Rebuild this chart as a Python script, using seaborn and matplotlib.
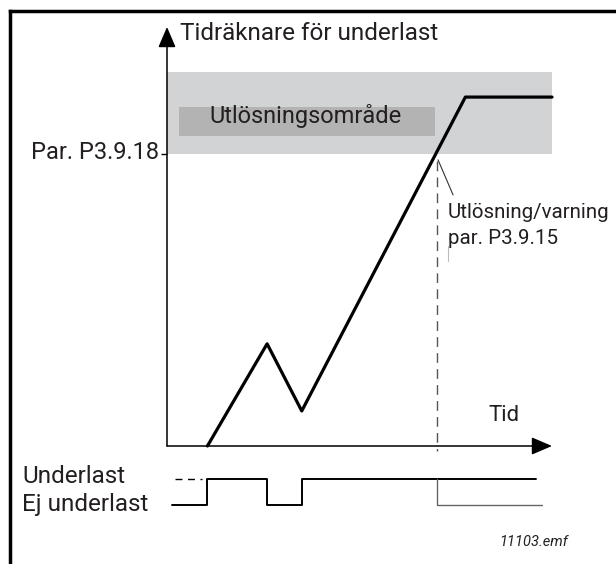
import matplotlib
matplotlib.use("Agg")
import matplotlib.pyplot as plt
import matplotlib.transforms as mtransforms
from matplotlib.lines import Line2D
from matplotlib.patches import Rectangle
import seaborn as sns
import pandas as pd

# ---------------- data ----------------
counter_time = [1.05, 2.6, 3.5, 7.75, 10.0]
counter_value = [0.0, 35.0, 12.0, 119.5, 119.5]
threshold = 100.0            # Par. P3.9.18
zone_top = 128.0
trip_time = 7.0
zone_box_time = [0.31, 6.96]
zone_box_value = [106.2, 116.1]

signal_time = [0.13, 1.05, 2.6, 3.5, 9.58]
signal_state = [0, 1, 0, 1, 1]
pre_dash_time = [0.21, 0.91]
pre_dash_state = [1, 1]
after_trip_time = [7.0, 7.0, 9.74]
after_trip_state = [1, 0, 0]

ytick_values = [threshold]
ytick_labels = ["Par. P3.9.18"]
signal_labels = ["Underlast", "Ej underlast"]
signal_label_states = [1, 0]

title_text = "Tidräknare för underlast"
zone_text = "Utlösningsområde"
trip_text = ["Utlösning/varning", "par. P3.9.15"]
x_text = "Tid"
file_text = "11103.emf"

counter_df = pd.DataFrame({"t": counter_time, "v": counter_value})
signal_df = pd.DataFrame({"t": signal_time, "s": signal_state})
after_df = pd.DataFrame({"t": after_trip_time, "s": after_trip_state})
dash_df = pd.DataFrame({"t": pre_dash_time, "s": pre_dash_state})

# ---------------- style ----------------
sns.set_theme(style="white")
plt.rcParams["font.family"] = ["Roboto", "DejaVu Sans"]
TXT = "#231f20"

W, H = 616, 564
fig = plt.figure(figsize=(W / 100, H / 100), dpi=100)
fig.patch.set_facecolor("white")

# main axes: x 0..10 -> px 167..552, y 0..143.5 -> px 446..27
ax = fig.add_axes([167 / W, (H - 446) / H, 385 / W, (446 - 27) / H])
ax.set_xlim(0, 10)
ax.set_ylim(0, 143.5)
ax.set_facecolor("none")
for s in ax.spines.values():
    s.set_visible(False)
ax.set_xticks([])
ax.set_yticks(ytick_values, ytick_labels)
ax.tick_params(axis="y", left=True, length=4.5, width=1.0, color="black",
               pad=1.5, labelsize=17, labelcolor=TXT)
for lab in ax.get_yticklabels():
    lab.set_transform(lab.get_transform() +
                      mtransforms.ScaledTranslation(0, 4 / 100, fig.dpi_scale_trans))

# trip zone
ax.axhspan(threshold, zone_top, color="#d2d3d5", lw=0, zorder=0)
ax.add_patch(Rectangle((zone_box_time[0], zone_box_value[0]),
                       zone_box_time[1] - zone_box_time[0],
                       zone_box_value[1] - zone_box_value[0],
                       facecolor="#b3b3b3", edgecolor="none", zorder=1))
ax.text(1.1, 110.6, zone_text, fontsize=17, color=TXT, va="baseline", ha="left", zorder=3)

# axes arrows
arrow_kw = dict(arrowstyle="-|>,head_length=1.05,head_width=0.45", lw=1.1,
                color="black", shrinkA=0, shrinkB=0, mutation_scale=12)
ax.annotate("", xy=(10, 0), xytext=(0, 0), arrowprops=arrow_kw, annotation_clip=False)
ax.annotate("", xy=(0, 143.5), xytext=(0, 0), arrowprops=arrow_kw, annotation_clip=False)

# counter line
sns.lineplot(data=counter_df, x="t", y="v", ax=ax, color="black", lw=2.3,
             sort=False, estimator=None, zorder=4, clip_on=False)

# trip dashed line + leader
ax.plot([trip_time, trip_time], [97.5, -1.8], color="#555555", lw=1.0,
        dashes=(7, 4.5), clip_on=False, zorder=2)
ax.plot([7.04, 7.43], [98, 86], color="#333333", lw=0.8, clip_on=False)
ax.plot([7.3, 7.3], [68.5, 63.5], color="#bbbbbb", lw=0.8, clip_on=False)

ax.text(7.3, 80, trip_text[0], fontsize=14.8, color=TXT, va="center", ha="left", clip_on=False)
ax.text(7.3, 71, trip_text[1], fontsize=14.8, color=TXT, va="center", ha="left", clip_on=False)
ax.text(8.34, 10.6, x_text, fontsize=16, color=TXT, va="center", ha="left")
ax.text(0.34, 141.4, title_text, fontsize=17.5, color=TXT, va="center", ha="left", clip_on=False)
ax.set_xlabel("")
ax.set_ylabel("")

# signal axes: state 0 -> px 505, state 1 -> px 479
ax2 = fig.add_axes([167 / W, (H - 505) / H, 385 / W, 26 / H])
ax2.set_xlim(0, 10)
ax2.set_ylim(0, 1)
ax2.axis("off")
sns.lineplot(data=signal_df, x="t", y="s", ax=ax2, color="black", lw=1.4,
             drawstyle="steps-post", sort=False, estimator=None, clip_on=False)
sns.lineplot(data=dash_df, x="t", y="s", ax=ax2, color="black", lw=1.0,
             dashes=(5, 4), sort=False, estimator=None, clip_on=False)
sns.lineplot(data=after_df, x="t", y="s", ax=ax2, color="#666666", lw=1.0,
             sort=False, estimator=None, clip_on=False)
ax2.set_xlabel("")
ax2.set_ylabel("")
lab_tr = mtransforms.blended_transform_factory(fig.transFigure, ax2.transData)
for lbl, st in zip(signal_labels, signal_label_states):
    ax2.text(22 / W, st + (0.08 if st == 1 else 0.0), lbl, transform=lab_tr,
             fontsize=17.5, color=TXT, va="center", ha="left")

fig.text(568 / W, 1 - 542 / H, file_text, fontsize=10.5, style="italic",
         color=TXT, ha="right", va="center")

# frame (left and top edges)
fig.add_artist(Line2D([9.5 / W, 9.5 / W], [0, 1 - 10.5 / H], transform=fig.transFigure,
                      color="black", lw=2.5, solid_capstyle="projecting"))
fig.add_artist(Line2D([9.5 / W, 1], [1 - 10.5 / H, 1 - 10.5 / H], transform=fig.transFigure,
                      color="black", lw=2.5, solid_capstyle="projecting"))

fig.savefig("out.png", dpi=100, facecolor="white")
